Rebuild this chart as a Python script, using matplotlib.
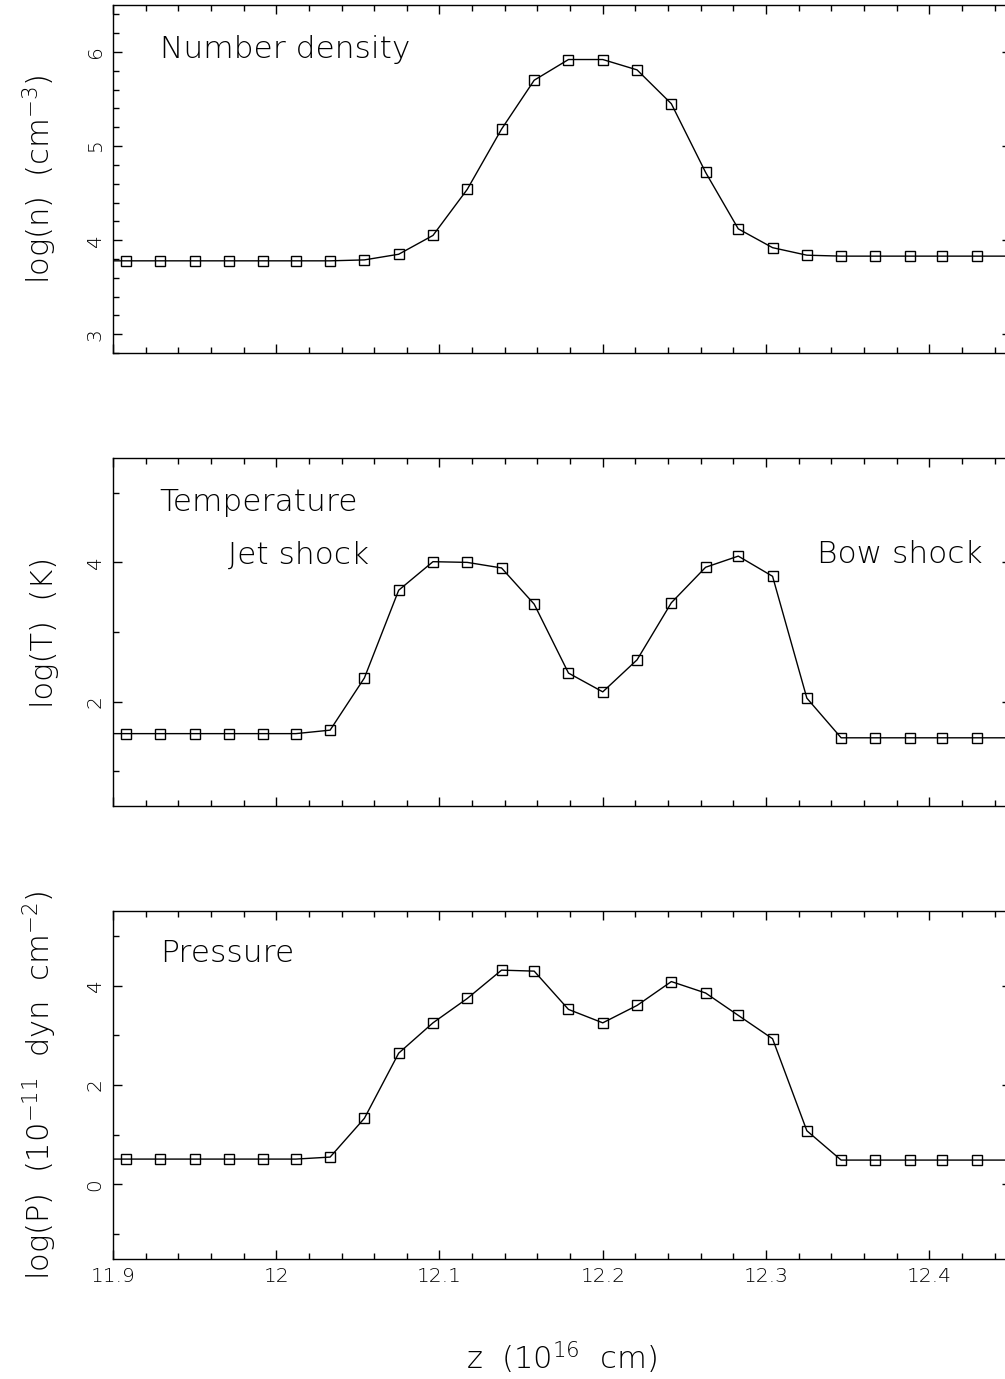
import matplotlib
matplotlib.use('Agg')
import matplotlib.pyplot as plt
from matplotlib.ticker import MultipleLocator, FuncFormatter

# z positions (10^16 cm) of the grid cells
z = [11.887, 11.908, 11.929, 11.950, 11.971, 11.992, 12.012, 12.033, 12.054,
     12.075, 12.096, 12.117, 12.138, 12.158, 12.179, 12.200, 12.221, 12.242,
     12.263, 12.283, 12.304, 12.325, 12.346, 12.367, 12.388, 12.408, 12.429,
     12.450]

log_n = [3.78, 3.78, 3.78, 3.78, 3.78, 3.78, 3.78, 3.78, 3.79, 3.85, 4.05,
         4.54, 5.18, 5.70, 5.92, 5.92, 5.81, 5.45, 4.72, 4.12, 3.92, 3.84,
         3.83, 3.83, 3.83, 3.83, 3.83, 3.83]

log_T = [1.54, 1.54, 1.54, 1.54, 1.54, 1.54, 1.54, 1.59, 2.34, 3.60, 4.01,
         4.00, 3.92, 3.40, 2.41, 2.14, 2.60, 3.42, 3.93, 4.09, 3.80, 2.05,
         1.48, 1.48, 1.48, 1.48, 1.48, 1.48]

log_P = [0.51, 0.51, 0.51, 0.51, 0.51, 0.51, 0.51, 0.55, 1.33, 2.64, 3.25,
         3.74, 4.31, 4.29, 3.52, 3.25, 3.60, 4.08, 3.85, 3.40, 2.93, 1.08,
         0.49, 0.49, 0.49, 0.49, 0.49, 0.49]

plt.rcParams['font.family'] = 'DejaVu Sans'
plt.rcParams['font.weight'] = 'light'
plt.rcParams['axes.labelweight'] = 'light'
plt.rcParams['mathtext.fontset'] = 'custom'
plt.rcParams['mathtext.rm'] = 'DejaVu Sans:light'
plt.rcParams['mathtext.default'] = 'regular'

fig = plt.figure(figsize=(10.05, 13.79), dpi=100)

panels = [
    # data, ylim, major, minor, ylabel, bottom
    (log_n, (2.8, 6.5), 1, 0.2, r'log(n)  (cm$^{-3}$)', 0.7440),
    (log_T, (0.5, 5.5), 2, 1, r'log(T)  (K)', 0.4155),
    (log_P, (-1.5, 5.5), 2, 1, r'log(P)  (10$^{-11}$  dyn  cm$^{-2}$)', 0.0870),
]

axes = []
for data, ylim, major, minor, ylabel, bottom in panels:
    ax = fig.add_axes([0.1124, bottom, 0.8935, 0.2524])
    ax.plot(z, data, color='black', lw=1.0, marker='s', ms=7,
            mfc='none', mec='black', mew=1.0)
    ax.set_xlim(11.9, 12.45)
    ax.set_ylim(*ylim)
    ax.xaxis.set_major_locator(MultipleLocator(0.1))
    ax.xaxis.set_minor_locator(MultipleLocator(0.02))
    ax.yaxis.set_major_locator(MultipleLocator(major))
    ax.yaxis.set_minor_locator(MultipleLocator(minor))
    ax.tick_params(which='both', direction='in', top=True, right=True,
                   width=1.0, color='black')
    ax.tick_params(which='major', length=6.5)
    ax.tick_params(which='minor', length=4)
    ax.tick_params(axis='y', labelrotation=90, labelsize=14.5, pad=6)
    ax.tick_params(axis='x', labelsize=14.5, pad=6)
    for lab in ax.get_yticklabels():
        lab.set_va('center')
    ax.xaxis.set_major_formatter(FuncFormatter(lambda v, p: '%g' % round(v, 3)))
    ax.yaxis.set_major_formatter(FuncFormatter(lambda v, p: '%g' % round(v, 3)))
    ax.set_ylabel(ylabel, fontsize=22)
    ax.yaxis.set_label_coords(-0.060, 0.5)
    for s in ax.spines.values():
        s.set_linewidth(1.0)
    axes.append(ax)

axes[0].tick_params(axis='x', labelbottom=False)
axes[1].tick_params(axis='x', labelbottom=False)

axes[0].text(0.052, 0.848, 'Number density', transform=axes[0].transAxes,
             fontsize=22.5, va='baseline')
axes[1].text(0.052, 0.849, 'Temperature', transform=axes[1].transAxes,
             fontsize=22.5, va='baseline')
axes[1].text(0.128, 0.697, 'Jet shock', transform=axes[1].transAxes,
             fontsize=22.5, va='baseline')
axes[1].text(0.7836, 0.697, 'Bow shock', transform=axes[1].transAxes,
             fontsize=22.5, va='baseline')
axes[2].text(0.052, 0.852, 'Pressure', transform=axes[2].transAxes,
             fontsize=22.5, va='baseline')

axes[2].set_xlabel(r'z  (10$^{16}$  cm)', fontsize=22)
axes[2].xaxis.set_label_coords(0.5, -0.232)

fig.savefig('out.png', dpi=100)
